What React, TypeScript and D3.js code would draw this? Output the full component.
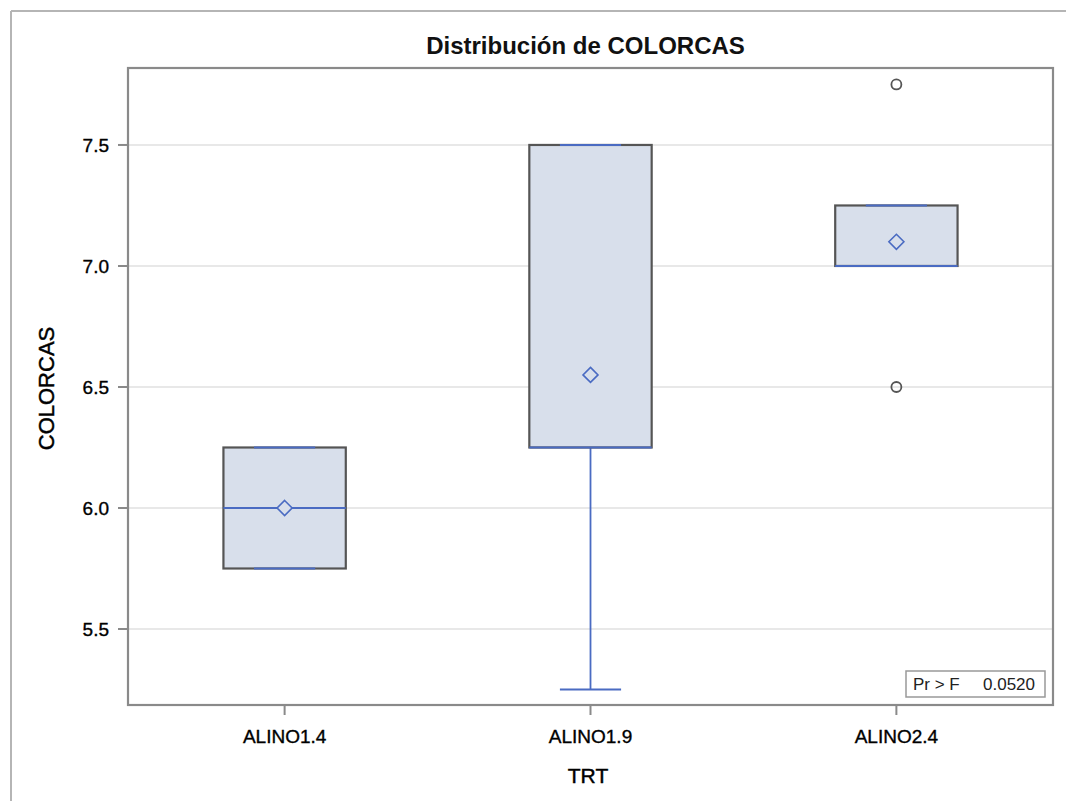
import React from "react";
import * as d3 from "d3";

const categories = ["ALINO1.4", "ALINO1.9", "ALINO2.4"];
const q1Values = [5.75, 6.25, 7.0];
const medianValues = [6.0, 6.25, 7.0];
const q3Values = [6.25, 7.5, 7.25];
const whiskerLow = [5.75, 5.25, 7.0];
const whiskerHigh = [6.25, 7.5, 7.25];
const meanValues = [6.0, 6.55, 7.1];
const outlierCats = ["ALINO2.4", "ALINO2.4"];
const outlierValues = [7.75, 6.5];
const yTicks = [5.5, 6.0, 6.5, 7.0, 7.5];
const title = "Distribución de COLORCAS";
const xTitle = "TRT";
const yTitle = "COLORCAS";
const statLabel = "Pr > F";
const statValue = "0.0520";

const W = 1066;
const H = 801;
const plotL = 128;
const plotR = 1053;
const plotT = 68;
const plotB = 705;

const FONT = "'Liberation Sans', Arial, sans-serif";
const BLUE = "#4a6bc2";
const FILL = "#d8dfeb";
const OUTLINE = "#555555";

export default function App() {
  const x = d3
    .scaleBand<string>()
    .domain(categories)
    .range([plotL, plotR])
    .paddingInner(0)
    .paddingOuter(0.012);
  const y = d3.scaleLinear().domain([5.186, 7.818]).range([plotB, plotT]);
  const bw = x.bandwidth() * 0.4;
  const capW = bw / 2;
  const dm = 7.5;

  return (
    <svg
      width={W}
      height={H}
      style={{ position: "absolute", left: 0, top: 0, background: "#fff" }}
      fontFamily={FONT}
    >
      <rect x={0} y={0} width={W} height={H} fill="#fff" />
      {/* outer border */}
      <line x1={11} x2={11} y1={11} y2={H} stroke="#b5b5b5" strokeWidth={2} />
      <line x1={11} x2={W} y1={11} y2={11} stroke="#b5b5b5" strokeWidth={2} />

      {/* title */}
      <text x={(plotL + plotR) / 2 - 5} y={54} textAnchor="middle" fontSize={24} fontWeight="bold" fill="#111">
        {title}
      </text>

      {/* gridlines */}
      {yTicks.map((t) => (
        <line key={"g" + t} x1={plotL} x2={plotR} y1={y(t)} y2={y(t)} stroke="#e8e8e8" strokeWidth={2} />
      ))}

      {/* boxes */}
      {categories.map((c, i) => {
        const cx = (x(c) as number) + x.bandwidth() / 2;
        const x0 = cx - bw / 2;
        return (
          <g key={c}>
            <line x1={cx} x2={cx} y1={y(q1Values[i])} y2={y(whiskerLow[i])} stroke={BLUE} strokeWidth={1.8} />
            <line x1={cx} x2={cx} y1={y(q3Values[i])} y2={y(whiskerHigh[i])} stroke={BLUE} strokeWidth={1.8} />
            <rect
              x={x0}
              y={y(q3Values[i])}
              width={bw}
              height={y(q1Values[i]) - y(q3Values[i])}
              fill={FILL}
              stroke={OUTLINE}
              strokeWidth={2.2}
            />
            <line x1={x0} x2={x0 + bw} y1={y(medianValues[i])} y2={y(medianValues[i])} stroke={BLUE} strokeWidth={2} />
            <line x1={cx - capW / 2} x2={cx + capW / 2} y1={y(whiskerLow[i])} y2={y(whiskerLow[i])} stroke={BLUE} strokeWidth={2} />
            <line x1={cx - capW / 2} x2={cx + capW / 2} y1={y(whiskerHigh[i])} y2={y(whiskerHigh[i])} stroke={BLUE} strokeWidth={2} />
            <path
              d={`M${cx},${y(meanValues[i]) - dm} L${cx + dm},${y(meanValues[i])} L${cx},${y(meanValues[i]) + dm} L${cx - dm},${y(meanValues[i])} Z`}
              fill={FILL}
              stroke={BLUE}
              strokeWidth={1.6}
            />
          </g>
        );
      })}

      {/* outliers */}
      {outlierValues.map((v, i) => (
        <circle
          key={"o" + i}
          cx={(x(outlierCats[i]) as number) + x.bandwidth() / 2}
          cy={y(v)}
          r={5}
          fill="none"
          stroke="#555"
          strokeWidth={1.8}
        />
      ))}

      {/* plot frame */}
      <rect x={plotL} y={plotT} width={plotR - plotL} height={plotB - plotT} fill="none" stroke="#8a8a8a" strokeWidth={2.2} />

      {/* y ticks */}
      {yTicks.map((t) => (
        <g key={"t" + t}>
          <line x1={plotL - 10} x2={plotL} y1={y(t)} y2={y(t)} stroke="#8a8a8a" strokeWidth={2} />
          <text x={plotL - 19} y={y(t)} dy="0.35em" textAnchor="end" fontSize={19} fill="#000" stroke="#000" strokeWidth={0.35}>
            {d3.format(".1f")(t)}
          </text>
        </g>
      ))}

      {/* x ticks */}
      {categories.map((c) => {
        const cx = (x(c) as number) + x.bandwidth() / 2;
        return (
          <g key={"x" + c}>
            <line x1={cx} x2={cx} y1={plotB} y2={plotB + 10} stroke="#8a8a8a" strokeWidth={2} />
            <text x={cx} y={743} textAnchor="middle" fontSize={19} fill="#000" stroke="#000" strokeWidth={0.35}>
              {c}
            </text>
          </g>
        );
      })}

      {/* axis titles */}
      <text x={588} y={783} textAnchor="middle" fontSize={21} fill="#000" stroke="#000" strokeWidth={0.45}>
        {xTitle}
      </text>
      <text
        transform={`translate(54, ${(plotT + plotB) / 2 + 2}) rotate(-90)`}
        textAnchor="middle"
        fontSize={22}
        fill="#000"
        stroke="#000"
        strokeWidth={0.45}
      >
        {yTitle}
      </text>

      {/* stat inset */}
      <rect x={906} y={671} width={139} height={26} fill="#fff" stroke="#999" strokeWidth={1.5} />
      <text x={913} y={690} fontSize={17} fill="#222">
        {statLabel}
      </text>
      <text x={1035} y={690} textAnchor="end" fontSize={17} fill="#222">
        {statValue}
      </text>
    </svg>
  );
}
